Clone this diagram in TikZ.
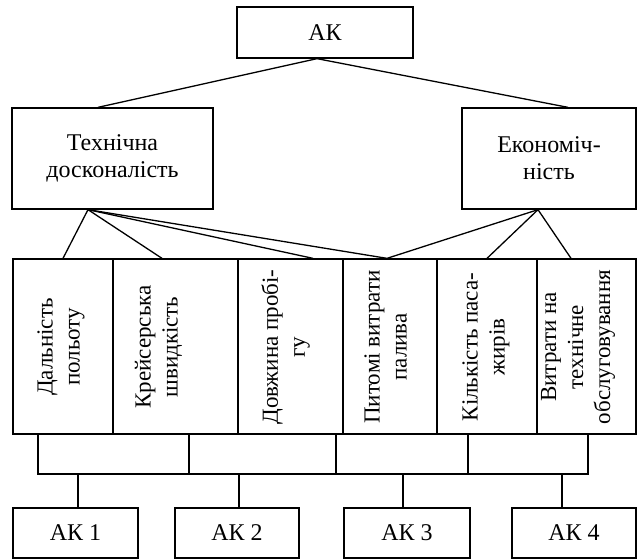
\documentclass[tikz,border=0pt]{standalone}
\usepackage{fontspec}
\setmainfont{Liberation Serif}
\begin{document}
\begin{tikzpicture}[x=1pt,y=-1pt, line width=1.3pt,
  box/.style={draw, line width=1.3pt, inner sep=0pt, align=center, font=\fontsize{24}{27}\selectfont},
  cell/.style={draw, line width=1.3pt, inner sep=0pt, minimum height=175},
  vtext/.style={rotate=90, align=center, inner sep=0pt, font=\fontsize{23}{27}\selectfont},
  conn/.style={line width=1.3pt}]
\useasboundingbox (0,0) rectangle (637,559);
% top level
\node[box, minimum width=176, minimum height=51] (ak) at (325,32.5) {АК};
\node[box, minimum width=201, minimum height=101] (lb) at (112.5,158.5) {Технічна\\досконалість};
\node[box, minimum width=174, minimum height=101] (rb) at (549,158.5) {Економіч-\\ність};
% row of cells
\node[cell, minimum width=100] (c1) at (63,346.5) {};
\node[cell, minimum width=125] (c2) at (175.5,346.5) {};
\node[cell, minimum width=105] (c3) at (290.5,346.5) {};
\node[cell, minimum width=94]  (c4) at (390,346.5) {};
\node[cell, minimum width=100] (c5) at (487,346.5) {};
\node[cell, minimum width=99]  (c6) at (586.5,346.5) {};
\node[vtext] (t1) at (61,347) {Дальність\\польоту};
\node[vtext] (t2) at (158.5,347) {Крейсерська\\швидкість};
\node[vtext] (t3) at (285.5,347) {Довжина пробі-\\гу};
\node[vtext] (t4) at (385.5,347) {Питомі витрати\\палива};
\node[vtext] (t5) at (486,347) {Кількість паса-\\жирів};
\node[vtext] (t6) at (578,347) {Витрати на\\технічне\\обслуговування};
% bottom boxes
\node[box, minimum width=125, minimum height=50] (b1) at (75.5,533) {АК 1};
\node[box, minimum width=124, minimum height=50] (b2) at (237,533) {АК 2};
\node[box, minimum width=126, minimum height=50] (b3) at (407,533) {АК 3};
\node[box, minimum width=124, minimum height=50] (b4) at (574,533) {АК 4};
% connectors top
\draw[conn] ([xshift=-8pt]ak.south) -- ([xshift=-14.5pt]lb.north);
\draw[conn] ([xshift=-8pt]ak.south) -- ([xshift=19pt]rb.north);
\draw[conn] ([xshift=-24.5pt]lb.south) -- (c1.north);
\draw[conn] ([xshift=-24.5pt]lb.south) -- ([xshift=-13.5pt]c2.north);
\draw[conn] ([xshift=-24.5pt]lb.south) -- ([xshift=22.5pt]c3.north);
\draw[conn] ([xshift=-24.5pt]lb.south) -- ([xshift=-3pt]c4.north);
\draw[conn] ([xshift=-11pt]rb.south) -- ([xshift=-3pt]c4.north);
\draw[conn] ([xshift=-11pt]rb.south) -- (c5.north);
\draw[conn] ([xshift=-11pt]rb.south) -- ([xshift=-15.5pt]c6.north);
% bracket
\coordinate (busL) at (37,474);
\coordinate (busR) at (588,474);
\draw[conn] (busL) -- (busR);
\draw[conn] ([xshift=-25pt]c1.south) -- ++(0,40);
\draw[conn] ([xshift=13.5pt]c2.south) -- ++(0,40);
\draw[conn] ([xshift=45.5pt]c3.south) -- ++(0,40);
\draw[conn] ([xshift=-19pt]c5.south) -- ++(0,40);
\draw[conn] ([xshift=1.5pt]c6.south) -- ++(0,40);
\draw[conn] ([xshift=2.5pt]b1.north) -- ++(0,-34);
\draw[conn] ([xshift=2pt]b2.north) -- ++(0,-34);
\draw[conn] ([xshift=-4pt]b3.north) -- ++(0,-34);
\draw[conn] ([xshift=-12pt]b4.north) -- ++(0,-34);
\end{tikzpicture}
\end{document}
